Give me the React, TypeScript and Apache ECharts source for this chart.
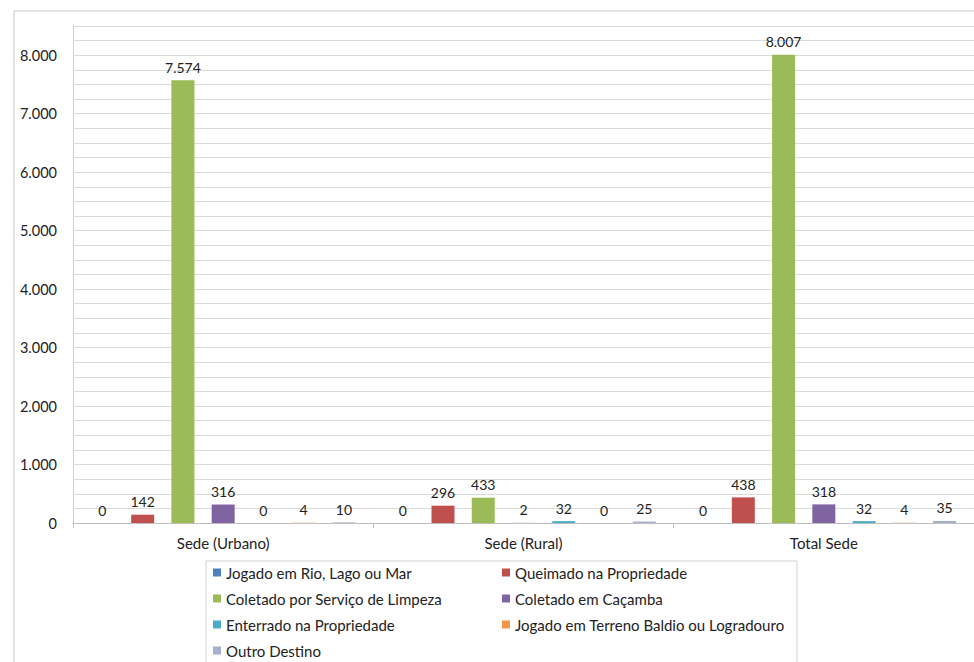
import React, { useEffect, useRef } from "react";
import * as echarts from "echarts";

const categories = ["Sede (Urbano)", "Sede (Rural)", "Total Sede"];
const seriesNames = [
  "Jogado em Rio, Lago ou Mar",
  "Queimado na Propriedade",
  "Coletado por Serviço de Limpeza",
  "Coletado em Caçamba",
  "Enterrado na Propriedade",
  "Jogado em Terreno Baldio ou Logradouro",
  "Outro Destino",
];
const jogadoRio = [0, 0, 0];
const queimado = [142, 296, 438];
const coletadoLimpeza = [7574, 433, 8007];
const coletadoCacamba = [316, 2, 318];
const enterrado = [0, 32, 32];
const jogadoTerreno = [4, 0, 4];
const outroDestino = [10, 25, 35];
const seriesValues = [jogadoRio, queimado, coletadoLimpeza, coletadoCacamba, enterrado, jogadoTerreno, outroDestino];
const colors = ["#4F81BD", "#C0504D", "#9BBB59", "#8064A2", "#4BACC6", "#F79646", "#A3B1C9"];
const yMax = 8500;

const fmt = (v: number) => String(v).replace(/\B(?=(\d{3})+(?!\d))/g, ".");

export default function App() {
  const ref = useRef<HTMLDivElement>(null);
  useEffect(() => {
    if (!ref.current) return;
    const chart = echarts.init(ref.current, undefined, { renderer: "svg" });
    const font = "Lato, 'Open Sans', sans-serif";
    const legendText = { fontSize: 15, color: "#222", fontFamily: font };
    chart.setOption({
      animation: false,
      backgroundColor: "#ffffff",
      textStyle: { fontFamily: font },
      grid: { left: 73, top: 26, right: -9, bottom: 139, containLabel: false },
      xAxis: {
        type: "category",
        data: categories,
        axisLine: { lineStyle: { color: "#bfbfbf" } },
        axisTick: { show: true, length: 5, lineStyle: { color: "#bfbfbf" } },
        axisLabel: { color: "#222", fontSize: 15, fontFamily: font, margin: 12 },
      },
      yAxis: {
        type: "value",
        min: 0,
        max: yMax,
        interval: 250,
        axisLine: { show: true, lineStyle: { color: "#d0d0d0" } },
        axisTick: { show: false },
        axisLabel: {
          color: "#222",
          fontSize: 14.5,
          fontFamily: font,
          margin: 16,
          formatter: (v: number) => (v % 1000 === 0 ? fmt(v) : ""),
        },
        splitLine: { lineStyle: { color: "#dadada", width: 1 } },
      },
      legend: [
        {
          data: [seriesNames[0], seriesNames[2], seriesNames[4], seriesNames[6]],
          orient: "vertical",
          left: 208,
          top: 560,
          width: 280,
          height: 140,
          itemWidth: 8,
          itemHeight: 8,
          itemGap: 11,
          icon: "rect",
          textStyle: legendText,
        },
        {
          data: [seriesNames[1], seriesNames[3], seriesNames[5]],
          orient: "vertical",
          left: 497,
          top: 560,
          width: 300,
          height: 140,
          itemWidth: 8,
          itemHeight: 8,
          itemGap: 11,
          icon: "rect",
          textStyle: legendText,
        },
      ],
      graphic: [
        {
          type: "rect",
          shape: { x: 14, y: 11, width: 980, height: 670 },
          style: { fill: "none", stroke: "#c8c8c8", lineWidth: 1 },
          silent: true,
        },
        {
          type: "rect",
          shape: { x: 206, y: 561, width: 591, height: 110 },
          style: { fill: "none", stroke: "#d0d0d0", lineWidth: 1 },
          silent: true,
        },
      ],
      series: seriesNames.map((name, i) => ({
        name,
        type: "bar",
        data: seriesValues[i],
        barWidth: 23,
        barGap: "75%",
        itemStyle: { color: colors[i] },
        label: {
          show: true,
          position: "top",
          distance: 6,
          color: "#222",
          fontSize: 14,
          fontFamily: font,
          formatter: (p: any) => fmt(p.value),
        },
      })),
    });
    return () => chart.dispose();
  }, []);
  return <div ref={ref} style={{ position: "fixed", left: 0, top: 0, width: 974, height: 662 }} />;
}
